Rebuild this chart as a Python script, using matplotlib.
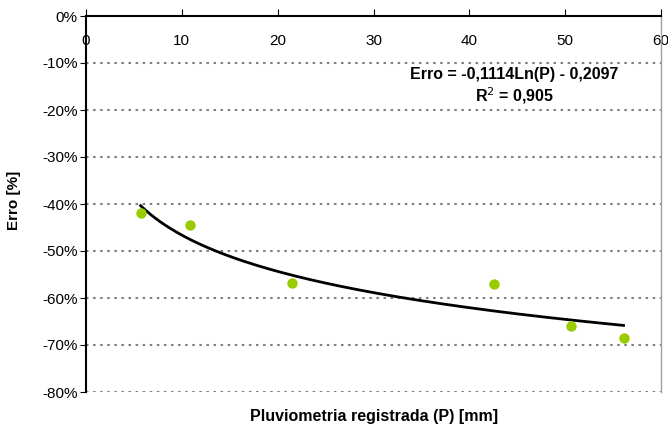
import numpy as np
import matplotlib.pyplot as plt

plt.rcParams["font.family"] = ["Liberation Sans", "DejaVu Sans"]

# dados
chuva = [5.7, 10.8, 21.5, 42.6, 50.6, 56.1]
erro = [-0.42, -0.445, -0.568, -0.570, -0.660, -0.685]
coef_a = -0.1114
coef_b = -0.2097
r2 = 0.905
yticks = [0, -0.1, -0.2, -0.3, -0.4, -0.5, -0.6, -0.7, -0.8]
xticks = [0, 10, 20, 30, 40, 50, 60]

fig = plt.figure(figsize=(6.68, 4.30), dpi=100)
ax = fig.add_axes([86/668, 1-392/430, (661-86)/668, (392-16)/430])

p = np.linspace(min(chuva), max(chuva), 200)
ax.plot(p, coef_a*np.log(p) + coef_b, color="black", lw=2, zorder=3)
ax.plot(chuva, erro, "o", color="#99CC00", ms=7.5, mec="none", zorder=4)

ax.set_xlim(0, 60)
ax.set_ylim(-0.8, 0)
ax.set_yticks(yticks)
ax.set_yticklabels(["%d%%" % round(v*100) for v in yticks], fontsize=11)
ax.set_xticks(xticks)
ax.set_xticklabels([str(v) for v in xticks], fontsize=11)
ax.tick_params(axis="x", top=True, bottom=False, labeltop=True, labelbottom=False,
               direction="out", length=5, pad=-28)
ax.tick_params(axis="y", direction="out", length=4, pad=2)

for v in yticks[1:]:
    ax.axhline(v, color="#808080", lw=1.5, ls=(0, (1.2, 2.2)), zorder=1)

ax.spines["bottom"].set_visible(False)
ax.spines["right"].set_color("#a0a0a0")
ax.spines["right"].set_linewidth(1)
ax.spines["left"].set_linewidth(1.5)
ax.spines["top"].set_linewidth(1.5)

ax.text(0.745, 0.845, "Erro = -0,1114Ln(P) - 0,2097", transform=ax.transAxes,
        ha="center", va="center", fontsize=11.5, fontweight="bold")
ax.text(0.745, 0.788, "R$^2$ = 0,905", transform=ax.transAxes,
        ha="center", va="center", fontsize=11.5, fontweight="bold")

fig.text(374/668, 1-417/430, "Pluviometria registrada (P) [mm]", ha="center", va="center",
         fontsize=11.5, fontweight="bold")
fig.text(14/668, 1-200/430, "Erro [%]", ha="center", va="center", rotation=90,
         fontsize=11, fontweight="bold")

fig.savefig("out.png", dpi=100)
